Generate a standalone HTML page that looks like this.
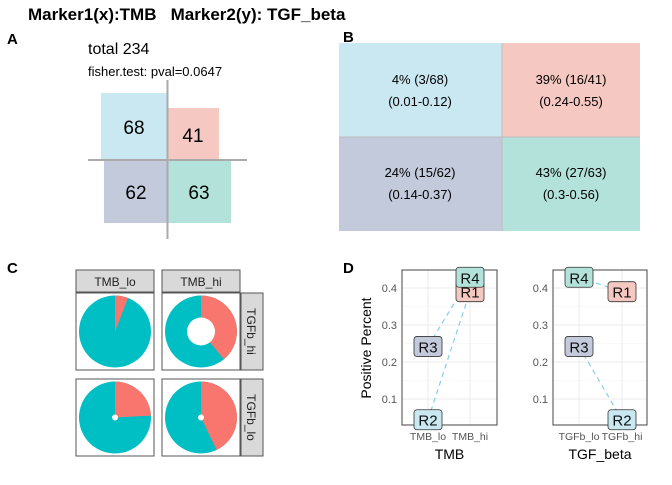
<!DOCTYPE html>
<html><head><meta charset="utf-8"><style>
body{margin:0;background:#fff;font-family:"Liberation Sans",sans-serif}
svg text{font-family:"Liberation Sans",sans-serif}
</style></head><body>
<svg width="672" height="480" xmlns="http://www.w3.org/2000/svg">
<text x="28" y="20" font-size="17" font-weight="bold">Marker1(x):TMB&#160;&#160;&#160;Marker2(y): TGF_beta</text>
<g id="pa">
<text x="88" y="54" font-size="16">total 234</text>
<text x="88" y="76" font-size="13">fisher.test: pval=0.0647</text>
<rect x="101" y="93" width="66" height="66" fill="#C9E8F1"/>
<rect x="168" y="108" width="51" height="51" fill="#F6C8C2"/>
<rect x="104" y="161" width="63" height="62" fill="#C3CADB"/>
<rect x="168" y="161" width="63" height="62" fill="#B3E2DA"/>
<line x1="167.5" y1="80" x2="167.5" y2="239" stroke="#aaa" stroke-width="2"/>
<line x1="88" y1="160" x2="247" y2="160" stroke="#aaa" stroke-width="2"/>
<text x="134" y="134" font-size="19" text-anchor="middle">68</text>
<text x="193" y="142" font-size="19" text-anchor="middle">41</text>
<text x="136" y="199" font-size="19" text-anchor="middle">62</text>
<text x="199" y="199" font-size="19" text-anchor="middle">63</text>
</g>
<g>
<rect x="339" y="43" width="163" height="94" fill="#C9E8F1"/>
<rect x="502" y="43" width="138" height="94" fill="#F6C8C2"/>
<rect x="339" y="137" width="163" height="94" fill="#C3CADB"/>
<rect x="502" y="137" width="138" height="94" fill="#B3E2DA"/>
<line x1="339" y1="137" x2="640" y2="137" stroke="#bbb"/>
<line x1="502" y1="43" x2="502" y2="231" stroke="#bbb"/>
<g font-size="13" text-anchor="middle">
<text x="420" y="84">4% (3/68)</text><text x="420" y="106">(0.01-0.12)</text>
<text x="571" y="84">39% (16/41)</text><text x="571" y="106">(0.24-0.55)</text>
<text x="420" y="177">24% (15/62)</text><text x="420" y="199">(0.14-0.37)</text>
<text x="571" y="177">43% (27/63)</text><text x="571" y="199">(0.3-0.56)</text>
</g></g>
<text x="7" y="44" font-size="15" font-weight="bold">A</text>
<text x="343" y="42" font-size="15" font-weight="bold">B</text>
<text x="7" y="273" font-size="15" font-weight="bold">C</text>
<text x="343" y="273" font-size="15" font-weight="bold">D</text>
<g id="pc"></g>
<g id="pd"></g>
</svg>
<script>
const NS="http://www.w3.org/2000/svg";
const pieCols=["TMB_lo","TMB_hi"];
const pieRows=["TGFb_hi","TGFb_lo"];
const piePos=[[4,16],[15,27]];
const pieTot=[[68,41],[62,63]];
const pieHole=[[0,14],[3,3]];
const labels=["R1","R2","R3","R4"];
const xGroupTMB=["TMB_hi","TMB_lo","TMB_lo","TMB_hi"];
const xGroupTGF=["TGFb_hi","TGFb_hi","TGFb_lo","TGFb_lo"];
const values=[0.390,0.044,0.242,0.429];
const yTicks=[0.1,0.2,0.3,0.4];
const fills=["#F6C8C2","#C9E8F1","#C3CADB","#B3E2DA"];
function mk(p,t,a){const e=document.createElementNS(NS,t);for(const k in a)e.setAttribute(k,a[k]);p.appendChild(e);return e;}
const pc=document.getElementById('pc');
const colX=[76,162],rowY=[293,379],pw=78,ph=77;
pieCols.forEach((c,i)=>{const r=mk(pc,'rect',{x:colX[i],y:270,width:pw,height:22,fill:'#d9d9d9',stroke:'#555'});

const t=mk(pc,'text',{x:colX[i]+pw/2,y:286,'font-size':12,'text-anchor':'middle',fill:'#222'});t.textContent=c;
});
pieRows.forEach((rn,j)=>{const r=mk(pc,'rect',{x:241,y:rowY[j],width:22,height:ph,fill:'#d9d9d9',stroke:'#555'});

const cy=rowY[j]+ph/2;const t=mk(pc,'text',{x:247,y:cy,'font-size':12,'text-anchor':'middle',fill:'#222',transform:`rotate(90 247 ${cy})`});t.textContent=rn;

pieCols.forEach((c,i)=>{const b=mk(pc,'rect',{x:colX[i],y:rowY[j],width:pw,height:ph,fill:'#fff',stroke:'#555'});

const cx=colX[i]+pw/2,cy2=rowY[j]+ph/2,R=36;const f=piePos[j][i]/pieTot[j][i];
const bg=mk(pc,'circle',{cx:cx,cy:cy2,r:R,fill:'#00BFC4'});
const a=f*2*Math.PI;const ex=cx+R*Math.sin(a),ey=cy2-R*Math.cos(a);
const s=mk(pc,'path',{d:`M${cx},${cy2} L${cx},${cy2-R} A${R},${R} 0 ${f>0.5?1:0} 1 ${ex},${ey} Z`,fill:'#F8766D'});

if(pieHole[j][i]>0){const h=mk(pc,'circle',{cx:cx,cy:cy2,r:pieHole[j][i],fill:'#fff'});}
});});
const pd=document.getElementById('pd');
const yS=v=>288+(0.4-v)*370;
function facet(x0,x1,cats,tickX,groups,title,name){
 const top=270,bot=425;
 const fr=mk(pd,'rect',{x:x0,y:top,width:x1-x0,height:bot-top,fill:'#fff'});
 yTicks.forEach(v=>{mk(pd,'line',{x1:x0,x2:x1,y1:yS(v),y2:yS(v),stroke:'#ebebeb','stroke-width':1});
  mk(pd,'line',{x1:x0,x2:x1,y1:yS(v-0.05),y2:yS(v-0.05),stroke:'#f3f3f3','stroke-width':0.6});
  const t=mk(pd,'text',{x:x0-5,y:yS(v)+4,'font-size':11,'text-anchor':'end',fill:'#555'});t.textContent=v.toFixed(1);
  });
 const xs=c=>tickX[cats.indexOf(c)];
 cats.forEach((c,i)=>{mk(pd,'line',{x1:tickX[i],x2:tickX[i],y1:top,y2:bot,stroke:'#ebebeb'});
  const t=mk(pd,'text',{x:tickX[i],y:bot+15,'font-size':10.5,'text-anchor':'middle',fill:'#555'});t.textContent=c;
  });
 const pairs=name==='tmb'?[[1,0],[2,3]]:[[2,1],[3,0]];
 pairs.forEach(p=>{const l=mk(pd,'line',{x1:xs(groups[p[0]]),y1:yS(values[p[0]]),x2:xs(groups[p[1]]),y2:yS(values[p[1]]),stroke:'#87CEEB','stroke-width':1.2,'stroke-dasharray':'5,4'});
  });
 mk(pd,'rect',{x:x0,y:top,width:x1-x0,height:bot-top,fill:'none',stroke:'#444','stroke-width':1});
 const bw=28,bh=20;
 [0,3,2,1].forEach(k=>{const cx=xs(groups[k]),cy=yS(values[k]);
  const r=mk(pd,'rect',{x:cx-bw/2,y:cy-bh/2,width:bw,height:bh,rx:3,fill:fills[k],stroke:'#333','stroke-width':0.8});
  
  const t=mk(pd,'text',{x:cx,y:cy+6,'font-size':15,'text-anchor':'middle',fill:'#111'});t.textContent=labels[k];
  });
 const tt=mk(pd,'text',{x:(x0+x1)/2,y:459,'font-size':14,'text-anchor':'middle'});tt.textContent=title;
 
}
facet(402,497,["TMB_lo","TMB_hi"],[428,470],xGroupTMB,"TMB","tmb");
facet(553,647,["TGFb_lo","TGFb_hi"],[579,622],xGroupTGF,"TGF_beta","tgf");
const yt=mk(pd,'text',{x:371,y:348,'font-size':14,'text-anchor':'middle',transform:'rotate(-90 371 348)'});yt.textContent="Positive Percent";

</script>
</body></html>
